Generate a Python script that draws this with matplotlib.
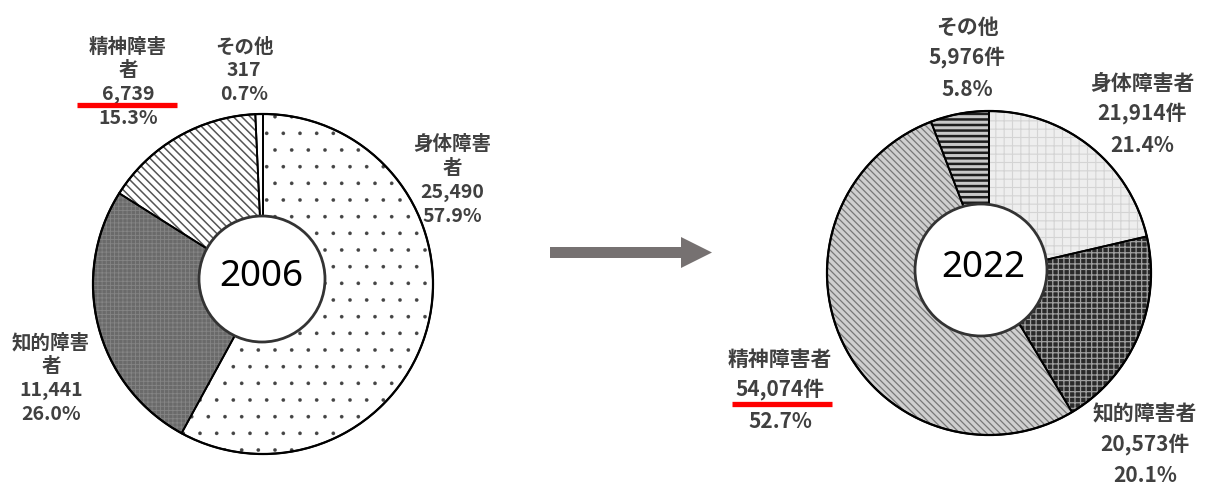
import matplotlib
matplotlib.use("Agg")
import matplotlib.pyplot as plt
from matplotlib.patches import Circle

plt.rcParams["font.family"] = ["Noto Sans CJK JP", "DejaVu Sans"]

# counts of consultations by disability type
categories = ["身体障害者", "知的障害者", "精神障害者", "その他"]
counts_2006 = [25490, 11441, 6739, 317]
share_2006 = [57.9, 26.0, 15.3, 0.7]
counts_2022 = [21914, 20573, 54074, 5976]
share_2022 = [21.4, 20.1, 52.7, 5.8]
years = ["2006", "2022"]

W, H = 1208, 487
TEXT = "#404040"


def y_(v):
    """Image-style y (top down) to axes y."""
    return H - v


def donut(ax, values, center, radius, hole, faces, hatches, hatch_colors, hatch_lw, year, year_pos):
    cx, cy = center
    wedges, _ = ax.pie(values, center=(cx, y_(cy)), radius=radius, startangle=90,
                       counterclock=False, colors=faces, hatch=hatches)
    for w, hc, hl in zip(wedges, hatch_colors, hatch_lw):
        w.set_edgecolor(hc)
        w.set_linewidth(0)
        if hasattr(w, "set_hatch_linewidth"):
            w.set_hatch_linewidth(hl)
    # outlines on top of the hatching
    ax.pie(values, center=(cx, y_(cy)), radius=radius, startangle=90,
           counterclock=False, colors=["none"] * len(values),
           wedgeprops=dict(edgecolor="black", linewidth=1.3))
    ax.add_patch(Circle((cx, y_(cy)), radius, fill=False, edgecolor="black", lw=1.6, zorder=3))
    hx, hy, hr = hole
    ax.add_patch(Circle((hx, y_(hy)), hr, facecolor="white", edgecolor="#333333", lw=2.0, zorder=4))
    ax.text(year_pos[0], y_(year_pos[1]), year, family="Noto Sans", fontsize=26.5,
            ha="center", va="center", color="black", zorder=5)


def label(ax, x, y0, step, lines, size):
    for i, s in enumerate(lines):
        ax.text(x, y_(y0 + i * step), s, ha="center", va="center", fontsize=size,
                color=TEXT, fontweight="bold", zorder=6)


fig = plt.figure(figsize=(W / 100, H / 100), dpi=100)
ax = fig.add_axes([0, 0, 1, 1])

donut(ax, counts_2006, (263, 284), 170, (262, 279, 63),
      faces=["white", "#6a6a6a", "white", "white"],
      hatches=[".", "++++", "\\" * 4, None],
      hatch_colors=["#444444", "#858585", "#555555", "black"],
      hatch_lw=[0.2, 0.6, 1.1, 1.0],
      year=years[0], year_pos=(261, 277))

donut(ax, counts_2022, (989, 273), 162, (981, 270, 66),
      faces=["#eeeeee", "#2a2a2a", "#cfcfcf", "#c8c8c8"],
      hatches=["++", "+++", "\\" * 5, "---"],
      hatch_colors=["#d4d4d4", "#a0a0a0", "#777777", "#1e1e1e"],
      hatch_lw=[0.8, 0.9, 0.9, 1.8],
      year=years[1], year_pos=(983, 268))

# labels for 2006 (names wrap after four characters)
pos_2006 = [(452, 144), (51, 343), (128, 47), (244, 47)]
for name, n, p, (x, y) in zip(categories, counts_2006, share_2006, pos_2006):
    if name == "その他":
        lines = [name, f"{n:,}", f"{p:.1f}%"]
    else:
        lines = [name[:4], name[4:], f"{n:,}", f"{p:.1f}%"]
    label(ax, x, y, 24, lines, 14)

pos_2022 = [(1142, 83), (1145, 414), (780, 359), (967, 27)]
for name, n, p, (x, y) in zip(categories, counts_2022, share_2022, pos_2022):
    label(ax, x, y, 31, [name, f"{n:,}件", f"{p:.1f}%"], 15)

# red underlines highlighting the mental-disability counts
ax.plot([77, 177], [y_(104.5), y_(104.5)], color="#ff0000", lw=3.8, solid_capstyle="butt", zorder=7)
ax.plot([732, 832], [y_(403.5), y_(403.5)], color="#ff0000", lw=3.8, solid_capstyle="butt", zorder=7)

ax.arrow(550, y_(252.5), 162, 0, width=11, head_width=31, head_length=31,
         length_includes_head=True, color="#767171", lw=0)

ax.set_xlim(0, W)
ax.set_ylim(0, H)
ax.set_aspect("equal")
ax.axis("off")

fig.savefig("out.png", dpi=100, facecolor="white")
